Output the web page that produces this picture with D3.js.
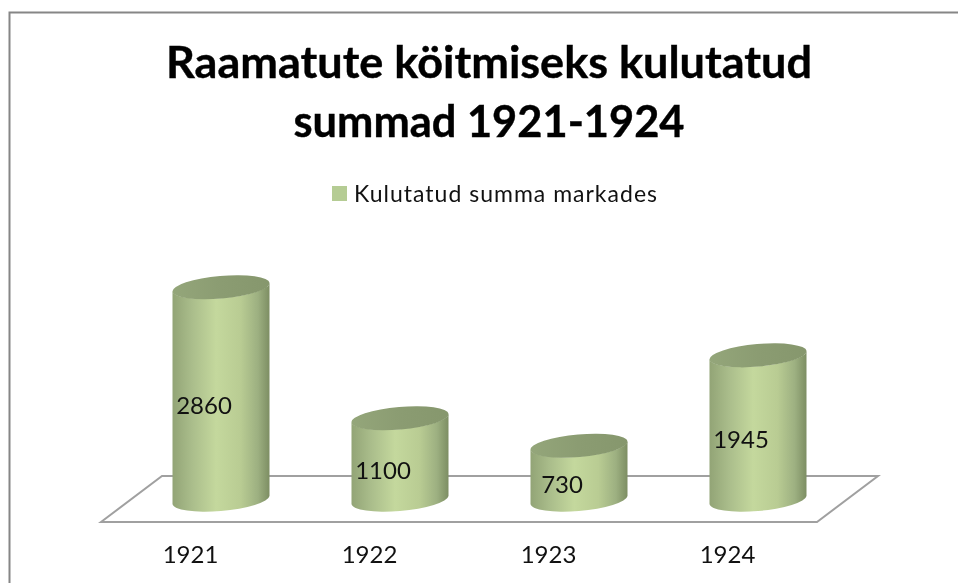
<!DOCTYPE html>
<html>
<head>
<meta charset="utf-8">
<script src="https://cdn.jsdelivr.net/npm/d3@7"></script>
<style>
  html, body { margin: 0; padding: 0; background: #fff; overflow: hidden; }
  svg { display: block; filter: blur(0.4px); }
  text { font-family: "Lato", "Open Sans", sans-serif; fill: #111; }
</style>
</head>
<body>
<svg id="canvas" width="958" height="583"></svg>
<script>
const years = ['1921', '1922', '1923', '1924']
const amounts = [2860, 1100, 730, 1945]
const titleLines = ['Raamatute köitmiseks kulutatud', 'summad 1921-1924']
const legendLabel = 'Kulutatud summa markades'

let canvas = d3.select('#canvas')

// cylinder centres and the value scale
let xScale = d3.scalePoint().domain(years).range([221, 758])
let yScale = d3.scaleLinear().domain([0, 2860]).range([500, 287.3])

const rx = 48.7, ry = 11.3, tilt = -5
// where the cylinder sides touch the tilted ellipse
const sideX = 48.5, sideY = 4

let defs = canvas.append('defs')

let bodyGradient = defs.append('linearGradient').attr('id', 'body')
bodyGradient.selectAll('stop')
    .data([[0, '#92a476'], [0.2, '#aabd8b'], [0.45, '#c4d89d'], [0.7, '#b9cc93'], [0.88, '#9db081'], [1, '#7d8e63']])
    .enter()
    .append('stop')
    .attr('offset', (d) => d[0])
    .attr('stop-color', (d) => d[1])

let topGradient = defs.append('linearGradient').attr('id', 'top')
topGradient.selectAll('stop')
    .data([[0, '#94a67a'], [0.5, '#8b9c72'], [1, '#86976d']])
    .enter()
    .append('stop')
    .attr('offset', (d) => d[0])
    .attr('stop-color', (d) => d[1])

// frame, only top and left are visible in the crop
canvas.append('path')
    .attr('d', 'M9.5,583V12.5H958')
    .attr('fill', 'none')
    .attr('stroke', '#868686')
    .attr('stroke-width', 2)

// title, stretched a little because Lato is not Calibri
const titleWidths = [646, 391]
canvas.selectAll('.title')
    .data(titleLines)
    .enter()
    .append('text')
    .attr('class', 'title')
    .attr('x', 489)
    .attr('y', (d, i) => 78 + i * 59)
    .attr('text-anchor', 'middle')
    .attr('font-size', 44)
    .attr('font-weight', 700)
    .attr('textLength', (d, i) => titleWidths[i])
    .attr('lengthAdjust', 'spacingAndGlyphs')
    .style('fill', '#000')
    .style('stroke', '#000')
    .style('stroke-width', 0.4)
    .text((d) => d)

// legend
canvas.append('rect')
    .attr('x', 332).attr('y', 186)
    .attr('width', 15).attr('height', 15)
    .attr('fill', '#b5cc94')
canvas.append('text')
    .attr('x', 354)
    .attr('y', 202)
    .attr('font-size', 23)
    .attr('textLength', 303)
    .attr('lengthAdjust', 'spacing')
    .text(legendLabel)

// floor of the 3d plot
canvas.append('path')
    .attr('d', d3.line()([[101, 522], [162, 476], [878, 476], [817, 522]]) + 'Z')
    .attr('fill', 'none')
    .attr('stroke', '#a0a0a0')
    .attr('stroke-width', 2)

// cylinders
let block = canvas.selectAll('.cylinder')
    .data(years.map((year, i) => ({ year: year, value: amounts[i] })))
    .enter()
    .append('g')
    .attr('class', 'cylinder')
    .attr('transform', (d) => 'translate(' + xScale(d.year) + ',0)')

block.append('path')
    .attr('d', (d) => {
        let yTop = yScale(d.value), yBase = yScale(0)
        return 'M' + (-sideX) + ',' + (yTop + sideY)
            + 'L' + (-sideX) + ',' + (yBase + sideY)
            + 'A' + rx + ',' + ry + ',' + tilt + ',0,0,' + sideX + ',' + (yBase - sideY)
            + 'L' + sideX + ',' + (yTop - sideY)
            + 'A' + rx + ',' + ry + ',' + tilt + ',0,1,' + (-sideX) + ',' + (yTop + sideY) + 'Z'
    })
    .attr('fill', 'url(#body)')

block.append('ellipse')
    .attr('rx', rx)
    .attr('ry', ry)
    .attr('transform', (d) => 'translate(0,' + yScale(d.value) + ') rotate(' + tilt + ')')
    .attr('fill', 'url(#top)')

// data labels sit left of the cylinder centre
block.append('text')
    .attr('x', -17)
    .attr('y', (d) => (yScale(d.value) + yScale(0)) / 2 + 20)
    .attr('text-anchor', 'middle')
    .attr('font-size', 24)
    .text((d) => d.value)

// year labels
let axis = d3.axisBottom(xScale).tickSize(0).tickPadding(0)
let axisGroup = canvas.append('g')
    .attr('transform', 'translate(-31,563)')
    .call(axis)
axisGroup.select('.domain').remove()
axisGroup.selectAll('text')
    .attr('dy', 0)
    .attr('y', 0)
    .style('font-family', '"Lato", sans-serif')
    .style('font-size', '24px')
    .style('fill', '#111')
</script>
</body>
</html>
